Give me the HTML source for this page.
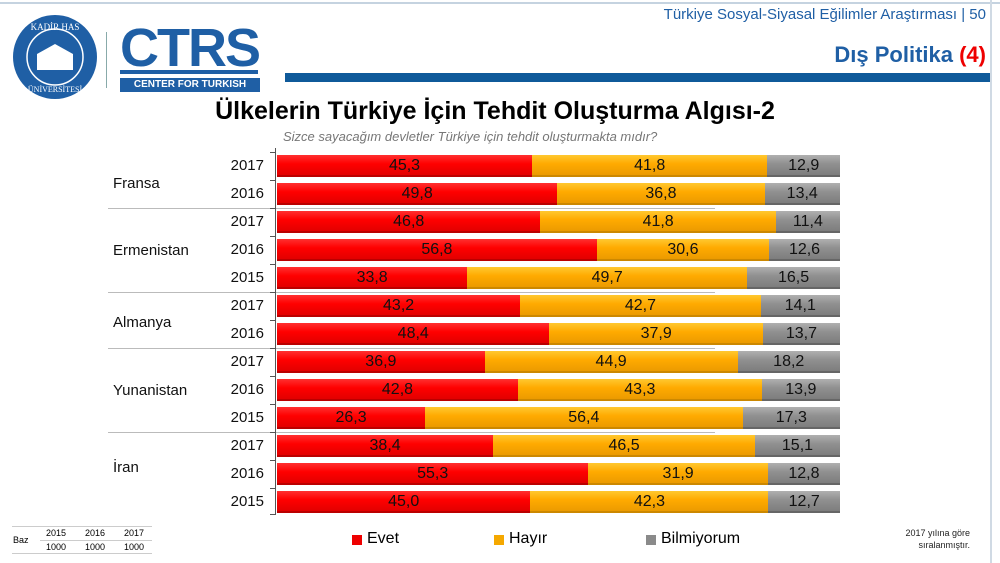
<!DOCTYPE html>
<html><head><meta charset="utf-8"><style>
*{margin:0;padding:0;box-sizing:border-box}
body{width:1000px;height:563px;background:#fff;position:relative;overflow:hidden;font-family:"Liberation Sans",Arial,sans-serif}
.a{position:absolute}
.row{position:absolute;left:277px;width:563px;height:22px;display:flex}
.row div{height:22px;font-size:16px;line-height:22px;text-align:center;color:#111}
.e{background:linear-gradient(#ff3030,#f00 40%,#d00);box-shadow:inset 0 -2px 0 #b00}
.h{background:linear-gradient(#ffc830,#fa0 40%,#e89800);box-shadow:inset 0 -2px 0 #c80}
.b{background:linear-gradient(#b0b0b0,#909090 40%,#7a7a7a);box-shadow:inset 0 -2px 0 #666}
.yr{position:absolute;left:222px;width:42px;font-size:15px;text-align:right;color:#111}
.ct{position:absolute;left:113px;font-size:15px;color:#111}
.sep{position:absolute;left:108px;width:607px;height:1px;background:#bbb}
.tick{position:absolute;left:270px;width:6px;height:1px;background:#555}
</style></head><body>
<div class="a" style="left:0;top:2px;width:1000px;height:2px;background:#c5d3e0"></div>
<div class="a" style="left:990px;top:0;width:2px;height:563px;background:#d0dae4"></div>
<svg class="a" style="left:12px;top:14px" width="86" height="86" viewBox="0 0 86 86">
<circle cx="43" cy="43" r="42" fill="#1f5fa5"/><circle cx="43" cy="43" r="28" fill="none" stroke="#fff" stroke-width="1.5"/>
<rect x="25" y="40" width="36" height="16" fill="#fff"/><polygon points="25,40 43,30 61,40" fill="#fff"/>
<text x="43" y="16" fill="#fff" font-size="9" text-anchor="middle" font-family="Liberation Serif">KADİR HAS</text>
<text x="43" y="78" fill="#fff" font-size="8" text-anchor="middle" font-family="Liberation Serif">ÜNİVERSİTESİ</text>
</svg>
<div class="a" style="left:106px;top:32px;width:1px;height:56px;background:#8aa"></div>
<div class="a" style="left:120px;top:24px;width:138px;height:48px;color:#1f5fa5;font-size:54px;font-weight:bold;line-height:48px;letter-spacing:-2px">CTRS</div>
<div class="a" style="left:120px;top:70px;width:138px;height:4px;background:#1f5fa5"></div>
<div class="a" style="left:120px;top:78px;width:140px;height:14px;background:#1f5fa5;color:#fff;font-size:10px;font-weight:bold;line-height:14px;text-align:center">CENTER FOR TURKISH STUDIES</div>
<div class="a" style="right:14px;top:6px;font-size:15px;color:#1f5fa5">Türkiye Sosyal-Siyasal Eğilimler Araştırması | 50</div>
<div class="a" style="right:14px;top:42px;font-size:22px;font-weight:bold;color:#1f5fa5">Dış Politika <span style="color:#e00">(4)</span></div>
<div class="a" style="left:285px;top:73px;width:705px;height:9px;background:#0f5a9a"></div>
<div class="a" style="left:200px;top:97px;width:590px;text-align:center;font-size:25px;font-weight:bold;color:#000">Ülkelerin Türkiye İçin Tehdit Oluşturma Algısı-2</div>
<div class="a" style="left:283px;top:129px;font-size:13px;font-style:italic;color:#777">Sizce sayacağım devletler Türkiye için tehdit oluşturmakta mıdır?</div>
<div class="a" style="left:275px;top:148px;width:1px;height:366px;background:#555"></div>
<div class="sep" style="top:208px"></div><div class="sep" style="top:292px"></div><div class="sep" style="top:348px"></div><div class="sep" style="top:432px"></div>
<div class="tick" style="top:152px"></div><div class="tick" style="top:180px"></div><div class="tick" style="top:208px"></div><div class="tick" style="top:236px"></div><div class="tick" style="top:264px"></div><div class="tick" style="top:292px"></div><div class="tick" style="top:320px"></div><div class="tick" style="top:348px"></div><div class="tick" style="top:376px"></div><div class="tick" style="top:404px"></div><div class="tick" style="top:432px"></div><div class="tick" style="top:460px"></div><div class="tick" style="top:488px"></div><div class="tick" style="top:514px"></div>
<div class="ct" style="top:175px">Fransa</div>
<div class="ct" style="top:242px">Ermenistan</div>
<div class="ct" style="top:314px">Almanya</div>
<div class="ct" style="top:382px">Yunanistan</div>
<div class="ct" style="top:459px">İran</div>

<div class="yr" style="top:157px">2017</div><div class="row" style="top:155px"><div class="e" style="width:45.3%">45,3</div><div class="h" style="width:41.8%">41,8</div><div class="b" style="width:12.9%">12,9</div></div>
<div class="yr" style="top:185px">2016</div><div class="row" style="top:183px"><div class="e" style="width:49.8%">49,8</div><div class="h" style="width:36.8%">36,8</div><div class="b" style="width:13.4%">13,4</div></div>
<div class="yr" style="top:213px">2017</div><div class="row" style="top:211px"><div class="e" style="width:46.8%">46,8</div><div class="h" style="width:41.8%">41,8</div><div class="b" style="width:11.4%">11,4</div></div>
<div class="yr" style="top:241px">2016</div><div class="row" style="top:239px"><div class="e" style="width:56.8%">56,8</div><div class="h" style="width:30.6%">30,6</div><div class="b" style="width:12.6%">12,6</div></div>
<div class="yr" style="top:269px">2015</div><div class="row" style="top:267px"><div class="e" style="width:33.8%">33,8</div><div class="h" style="width:49.7%">49,7</div><div class="b" style="width:16.5%">16,5</div></div>
<div class="yr" style="top:297px">2017</div><div class="row" style="top:295px"><div class="e" style="width:43.2%">43,2</div><div class="h" style="width:42.7%">42,7</div><div class="b" style="width:14.1%">14,1</div></div>
<div class="yr" style="top:325px">2016</div><div class="row" style="top:323px"><div class="e" style="width:48.4%">48,4</div><div class="h" style="width:37.9%">37,9</div><div class="b" style="width:13.7%">13,7</div></div>
<div class="yr" style="top:353px">2017</div><div class="row" style="top:351px"><div class="e" style="width:36.9%">36,9</div><div class="h" style="width:44.9%">44,9</div><div class="b" style="width:18.2%">18,2</div></div>
<div class="yr" style="top:381px">2016</div><div class="row" style="top:379px"><div class="e" style="width:42.8%">42,8</div><div class="h" style="width:43.3%">43,3</div><div class="b" style="width:13.9%">13,9</div></div>
<div class="yr" style="top:409px">2015</div><div class="row" style="top:407px"><div class="e" style="width:26.3%">26,3</div><div class="h" style="width:56.4%">56,4</div><div class="b" style="width:17.3%">17,3</div></div>
<div class="yr" style="top:437px">2017</div><div class="row" style="top:435px"><div class="e" style="width:38.4%">38,4</div><div class="h" style="width:46.5%">46,5</div><div class="b" style="width:15.1%">15,1</div></div>
<div class="yr" style="top:465px">2016</div><div class="row" style="top:463px"><div class="e" style="width:55.3%">55,3</div><div class="h" style="width:31.9%">31,9</div><div class="b" style="width:12.8%">12,8</div></div>
<div class="yr" style="top:493px">2015</div><div class="row" style="top:491px"><div class="e" style="width:45.0%">45,0</div><div class="h" style="width:42.3%">42,3</div><div class="b" style="width:12.7%">12,7</div></div>

<div class="a" style="left:352px;top:535px;width:10px;height:10px;background:#e00"></div>
<div class="a" style="left:367px;top:530px;font-size:16px">Evet</div>
<div class="a" style="left:494px;top:535px;width:10px;height:10px;background:#f5a800"></div>
<div class="a" style="left:509px;top:530px;font-size:16px">Hayır</div>
<div class="a" style="left:646px;top:535px;width:10px;height:10px;background:#8a8a8a"></div>
<div class="a" style="left:661px;top:530px;font-size:16px">Bilmiyorum</div>
<div class="a" style="left:880px;top:527px;width:90px;text-align:right;font-size:9px;line-height:12px;color:#222">2017 yılına göre<br>sıralanmıştır.</div>
<div class="a" style="left:12px;top:526px;width:140px;height:1px;background:#ccc"></div>
<div class="a" style="left:40px;top:540px;width:112px;height:1px;background:#ccc"></div>
<div class="a" style="left:12px;top:553px;width:140px;height:1px;background:#ccc"></div>
<div class="a" style="left:13px;top:535px;font-size:9px">Baz</div>
<div class="a" style="left:46px;top:528px;font-size:9px">2015</div><div class="a" style="left:85px;top:528px;font-size:9px">2016</div><div class="a" style="left:124px;top:528px;font-size:9px">2017</div>
<div class="a" style="left:46px;top:542px;font-size:9px">1000</div><div class="a" style="left:85px;top:542px;font-size:9px">1000</div><div class="a" style="left:124px;top:542px;font-size:9px">1000</div>
</body></html>
